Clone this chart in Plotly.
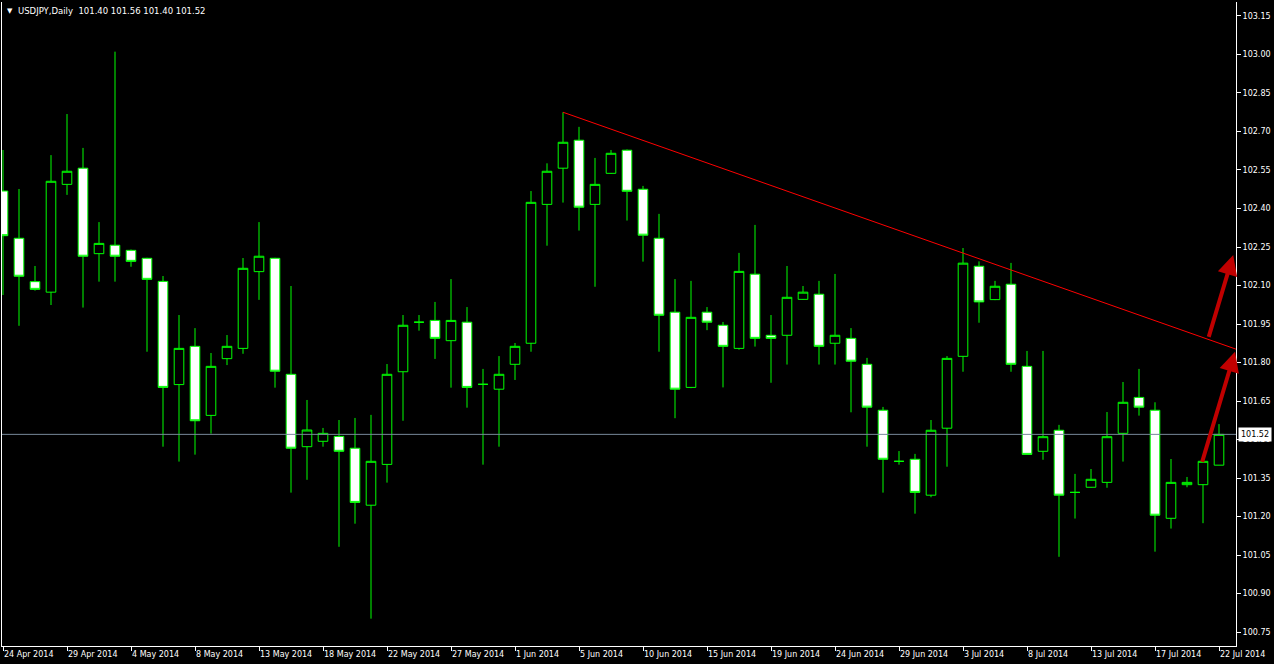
import plotly.graph_objects as go

# ---------------- data ----------------
bar_index = list(range(77))

opens = [102.468, 102.284, 102.115, 102.074, 102.494, 102.557, 102.224, 102.257, 102.237, 102.206,
         102.116, 101.714, 101.863, 101.594, 101.815, 101.855, 102.154, 102.206, 101.754, 101.472,
         101.493, 101.512, 101.466, 101.244, 101.403, 101.764, 101.957, 101.964, 101.885, 101.957,
         101.715, 101.696, 101.793, 101.875, 102.416, 102.557, 102.666, 102.416, 102.537, 102.627,
         102.475, 102.284, 101.996, 101.703, 101.996, 101.945, 101.855, 102.144, 101.906, 101.906,
         102.046, 102.066, 101.875, 101.894, 101.793, 101.614, 101.415, 101.423, 101.283, 101.544,
         101.824, 102.175, 102.045, 102.105, 101.785, 101.454, 101.536, 101.294, 101.314, 101.333,
         101.524, 101.664, 101.614, 101.193, 101.324, 101.324, 101.40]
highs = [102.628, 102.476, 102.176, 102.608, 102.768, 102.636, 102.347, 103.011, 102.240, 102.208,
         102.137, 101.985, 101.934, 101.837, 101.907, 102.207, 102.347, 102.208, 102.098, 101.654,
         101.545, 101.576, 101.584, 101.596, 101.794, 101.985, 101.985, 102.036, 102.125, 102.016,
         101.775, 101.825, 101.876, 102.468, 102.576, 102.775, 102.718, 102.597, 102.628, 102.630,
         102.488, 102.379, 102.125, 102.118, 102.016, 101.958, 102.227, 102.336, 101.985, 102.176,
         102.098, 102.118, 102.145, 101.934, 101.818, 101.627, 101.455, 101.444, 101.576, 101.825,
         102.246, 102.194, 102.118, 102.188, 101.845, 101.845, 101.557, 101.366, 101.385, 101.607,
         101.724, 101.775, 101.645, 101.424, 101.354, 101.417, 101.56]
lows = [102.063, 101.943, 102.080, 102.024, 102.453, 102.014, 102.115, 102.115, 102.173, 101.842,
        101.472, 101.414, 101.441, 101.523, 101.790, 101.834, 102.044, 101.702, 101.293, 101.343,
        101.472, 101.082, 101.172, 100.802, 101.332, 101.573, 101.924, 101.814, 101.702, 101.624,
        101.402, 101.472, 101.732, 101.842, 102.255, 102.423, 102.314, 102.095, 102.535, 102.353,
        102.193, 101.842, 101.583, 101.700, 101.926, 101.703, 101.850, 101.862, 101.721, 101.792,
        102.044, 101.792, 101.792, 101.606, 101.472, 101.293, 101.402, 101.211, 101.275, 101.394,
        101.764, 101.955, 102.043, 101.764, 101.440, 101.421, 101.043, 101.192, 101.312, 101.312,
        101.414, 101.593, 101.063, 101.153, 101.314, 101.174, 101.40]
closes = [102.294, 102.136, 102.085, 102.506, 102.545, 102.214, 102.264, 102.214, 102.194, 102.124,
          101.703, 101.855, 101.573, 101.785, 101.863, 102.167, 102.214, 101.766, 101.466, 101.537,
          101.524, 101.454, 101.255, 101.415, 101.754, 101.945, 101.957, 101.894, 101.964, 101.703,
          101.715, 101.754, 101.863, 102.424, 102.545, 102.658, 102.405, 102.494, 102.615, 102.467,
          102.296, 101.984, 101.696, 101.976, 101.957, 101.863, 102.155, 101.894, 101.894, 102.054,
          102.074, 101.863, 101.906, 101.805, 101.626, 101.423, 101.415, 101.294, 101.536, 101.816,
          102.187, 102.036, 102.097, 101.793, 101.442, 101.511, 101.283, 101.294, 101.345, 101.511,
          101.645, 101.626, 101.205, 101.333, 101.333, 101.415, 101.52]

tick_index = [0, 4, 8, 12, 16, 20, 24, 28, 32, 36, 40, 44, 48, 52, 56, 60, 64, 68, 72, 76]
tick_labels = ["24 Apr 2014", "29 Apr 2014", "4 May 2014", "8 May 2014", "13 May 2014",
               "18 May 2014", "22 May 2014", "27 May 2014", "1 Jun 2014", "5 Jun 2014",
               "10 Jun 2014", "15 Jun 2014", "19 Jun 2014", "24 Jun 2014", "29 Jun 2014",
               "3 Jul 2014", "8 Jul 2014", "13 Jul 2014", "17 Jul 2014", "22 Jul 2014"]
price_ticks = [100.75, 100.90, 101.05, 101.20, 101.35, 101.50, 101.65, 101.80, 101.95,
               102.10, 102.25, 102.40, 102.55, 102.70, 102.85, 103.00, 103.15]

symbol_name = "USDJPY,Daily"

trend_x = [35, 77.06]
trend_y = [102.775, 101.852]

arrow_tail_x = [74.92, 75.33]
arrow_tail_y = [101.407, 101.894]
arrow_tip_x = [77.0, 76.89]
arrow_tip_y = [101.842, 102.219]

x_range = [-0.0625, 77.0625]
y_range = [100.6955, 103.2045]

# ---------------- figure ----------------
GREEN = "#00FF00"
fig = go.Figure()

fig.add_trace(go.Candlestick(
    x=bar_index, open=opens, high=highs, low=lows, close=closes,
    increasing=dict(line=dict(color=GREEN, width=1), fillcolor="black"),
    decreasing=dict(line=dict(color=GREEN, width=1), fillcolor="white"),
    whiskerwidth=0, hoverinfo="skip", showlegend=False,
))

fig.add_trace(go.Scatter(
    x=trend_x, y=trend_y, mode="lines",
    line=dict(color="#FF0000", width=1), hoverinfo="skip", showlegend=False,
))

# current price line
fig.add_shape(type="line", xref="paper", x0=0, x1=1, yref="y",
              y0=closes[-1], y1=closes[-1], line=dict(color="#778899", width=1))

# arrows
for tx, ty, hx, hy in zip(arrow_tail_x, arrow_tail_y, arrow_tip_x, arrow_tip_y):
    fig.add_annotation(x=hx, y=hy, ax=tx, ay=ty, xref="x", yref="y", axref="x", ayref="y",
                       text="", showarrow=True, arrowhead=2, arrowsize=1, arrowwidth=4,
                       arrowcolor="#C00000", standoff=0, startstandoff=0)

# title
fig.add_annotation(xref="paper", yref="paper", x=0, y=1, xanchor="left", yanchor="top",
                   xshift=3, yshift=-3, text="▼", showarrow=False,
                   font=dict(family="DejaVu Sans", size=7, color="white"))
title_txt = (symbol_name + "\u00a0\u00a0" +
             " ".join(f"{v:.2f}" for v in (opens[-1], highs[-1], lows[-1], closes[-1])))
fig.add_annotation(xref="paper", yref="paper", x=0, y=1, xanchor="left", yanchor="top",
                   xshift=14, yshift=-2, text=title_txt, showarrow=False,
                   font=dict(family="DejaVu Sans", size=8.5, color="white"))

# price label
fig.add_annotation(xref="paper", yref="y", x=1, y=closes[-1], xanchor="left", yanchor="middle",
                   xshift=2, text=f"{closes[-1]:.2f}", showarrow=False, bgcolor="white",
                   borderpad=2, font=dict(family="DejaVu Sans", size=8, color="black"))

fig.update_layout(
    width=1274, height=664,
    margin=dict(l=2, r=38, t=2, b=18),
    paper_bgcolor="black", plot_bgcolor="black",
    showlegend=False, boxgap=0.4, boxgroupgap=0,
    font=dict(family="DejaVu Sans", size=8, color="white"),
    xaxis=dict(range=x_range, tickmode="array", tickvals=tick_index, ticktext=tick_labels,
               ticks="outside", ticklen=4, tickcolor="white", showline=True, linecolor="white",
               linewidth=1, showgrid=False, zeroline=False, rangeslider=dict(visible=False),
               ticklabelposition="outside right", fixedrange=True),
    yaxis=dict(side="right", range=y_range, tickmode="array", tickvals=price_ticks,
               ticktext=[f"{v:.2f}" for v in price_ticks], ticks="outside", ticklen=4,
               tickcolor="white", showline=True, mirror=True, linecolor="white", linewidth=1,
               showgrid=False, zeroline=False, fixedrange=True),
)

fig.write_html("out.html", config={"displayModeBar": False},
               post_script="document.body.style.margin='0';document.body.style.overflow='hidden';")
